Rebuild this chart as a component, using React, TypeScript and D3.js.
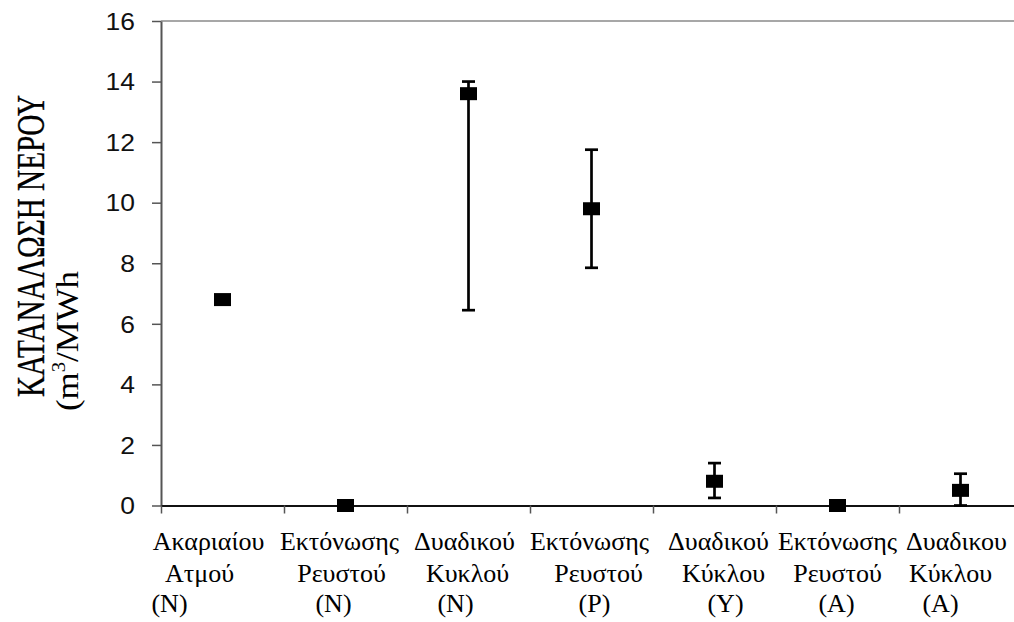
import React, { useEffect, useRef } from "react";
import * as d3 from "d3";

// category labels (three lines each, as in the original)
const labelLine1 = ["Ακαριαίου", "Εκτόνωσης", "Δυαδικού", "Εκτόνωσης", "Δυαδικού", "Εκτόνωσης", "Δυαδικου"];
const labelLine2 = ["Ατμού", "Ρευστού", "Κυκλού", "Ρευστού", "Κύκλου", "Ρευστού", "Κύκλου"];
const labelLine3 = ["(N)", "(N)", "(N)", "(P)", "(Y)", "(A)", "(A)"];

// water consumption (m3/MWh) with min / max range
const values = [6.8, 0.0, 13.6, 9.8, 0.8, 0.0, 0.5];
const errHigh = [null, null, 14.0, 11.75, 1.4, null, 1.05];
const errLow = [null, null, 6.45, 7.85, 0.25, null, 0.0];

const yTicks = [0, 2, 4, 6, 8, 10, 12, 14, 16];

// small manual nudges of the label lines (px), like the hand-spaced original
const shift1 = [-14, -6, -4, -2, 4, 0, -4];
const shift2 = [-23, -4, -1, 7, 9, 0, -10];
const shift3 = [-53, -12, -13, 3, 11, -1, -20];

const W = 1014, H = 622;
const left = 161, right = 1022, top = 21, bottom = 505.5;
const serif = "'Liberation Serif', 'Times New Roman', serif";

export default function App() {
  const ref = useRef<SVGSVGElement>(null);

  useEffect(() => {
    const svg = d3.select(ref.current);
    svg.selectAll("*").remove();

    const idx = values.map((_, i) => i);
    const x = d3.scaleBand<number>().domain(idx).range([left, right]).padding(0);
    const xEdges = d3.scaleLinear().domain([0, values.length]).range([left, right]);
    const y = d3.scaleLinear().domain([0, 16]).range([bottom, top]);
    const cx = (i: number) => (x(i) as number) + x.bandwidth() / 2;

    // top border
    svg.append("line")
      .attr("x1", left).attr("x2", W).attr("y1", y(16)).attr("y2", y(16))
      .attr("stroke", "#8a8a8a").attr("stroke-width", 1.5);

    // y axis
    const yAxis = svg.append("g")
      .attr("transform", `translate(${left},0)`)
      .call(d3.axisLeft(y).tickValues(yTicks).tickSize(9).tickSizeOuter(0).tickPadding(8));
    yAxis.select(".domain").attr("stroke", "#555").attr("stroke-width", 2);
    yAxis.selectAll(".tick line").attr("stroke", "#555").attr("stroke-width", 1.5);
    yAxis.selectAll(".tick text")
      .attr("fill", "#111")
      .style("font-family", "'Liberation Sans', Arial, sans-serif")
      .style("font-size", "23px")
      .attr("transform", "scale(1.15,1)")
      .attr("x", -26 / 1.15)
      .attr("dy", "0.36em");

    // x axis with ticks on category boundaries
    const xAxis = svg.append("g")
      .attr("transform", `translate(0,${bottom})`)
      .call(d3.axisBottom(xEdges).tickValues(d3.range(values.length + 1)).tickSize(8).tickSizeOuter(0).tickFormat(() => ""));
    xAxis.select(".domain").attr("stroke", "#111").attr("stroke-width", 2);
    xAxis.selectAll(".tick line").attr("stroke", "#555").attr("stroke-width", 1.5);

    // error bars
    const bars = idx.filter(i => errHigh[i] !== null);
    const eg = svg.append("g").attr("stroke", "#000").attr("stroke-width", 2.7);
    eg.selectAll(".stem").data(bars).join("line").attr("class", "stem")
      .attr("x1", cx).attr("x2", cx)
      .attr("y1", i => y(errHigh[i] as number)).attr("y2", i => y(errLow[i] as number));
    eg.selectAll(".capHi").data(bars).join("line").attr("class", "capHi")
      .attr("x1", i => cx(i) - 6.5).attr("x2", i => cx(i) + 6.5)
      .attr("y1", i => y(errHigh[i] as number)).attr("y2", i => y(errHigh[i] as number));
    eg.selectAll(".capLo").data(bars).join("line").attr("class", "capLo")
      .attr("x1", i => cx(i) - 6.5).attr("x2", i => cx(i) + 6.5)
      .attr("y1", i => y(errLow[i] as number)).attr("y2", i => y(errLow[i] as number));

    // square markers
    svg.append("g").selectAll("rect").data(idx).join("rect")
      .attr("x", i => cx(i) - 8.5).attr("y", i => y(values[i]) - 6.5)
      .attr("width", 17).attr("height", 13).attr("fill", "#000");

    // category labels
    const lab = svg.append("g")
      .style("font-family", serif)
      .style("font-size", "26px").attr("fill", "#000").attr("text-anchor", "middle");
    const lines: [string[], number[], number][] = [
      [labelLine1, shift1, 550],
      [labelLine2, shift2, 582],
      [labelLine3, shift3, 612],
    ];
    lines.forEach(([txt, sh, base], k) => {
      lab.selectAll(`.l${k}`).data(idx).join("text").attr("class", `l${k}`)
        .attr("x", i => cx(i) + sh[i]).attr("y", base).text(i => txt[i]);
    });

    // y title (tall, narrow glyphs as in the source image)
    svg.append("text")
      .attr("transform", "translate(44,246) rotate(-90) scale(1,1.12)")
      .attr("text-anchor", "middle")
      .style("font-family", serif)
      .style("font-size", "36px")
      .attr("stroke", "#000").attr("stroke-width", 0.3)
      .attr("textLength", 302).attr("lengthAdjust", "spacingAndGlyphs")
      .text("ΚΑΤΑΝΑΛΩΣΗ ΝΕΡΟΥ");
    const t2 = svg.append("text")
      .attr("transform", "translate(78,341) rotate(-90)")
      .attr("text-anchor", "middle")
      .style("font-family", serif)
      .style("font-size", "32px")
      .attr("textLength", 140).attr("lengthAdjust", "spacingAndGlyphs");
    t2.append("tspan").text("(m");
    t2.append("tspan").attr("dy", -13).style("font-size", "19px").text("3");
    t2.append("tspan").attr("dy", 13).text("/MWh");
  }, []);

  return (
    <svg ref={ref} width={W} height={H}
      style={{ position: "absolute", left: 0, top: 0, background: "#fff" }} />
  );
}
